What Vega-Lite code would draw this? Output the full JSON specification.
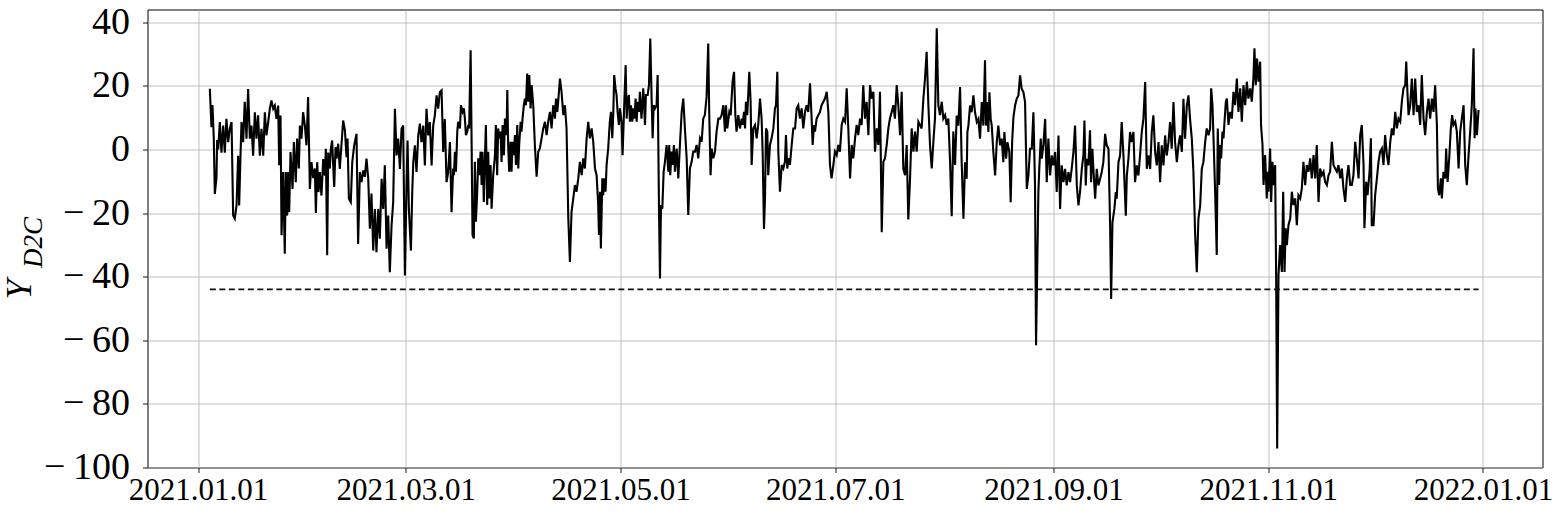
{
"$schema": "https://vega.github.io/schema/vega-lite/v6.json",
"width": 1395, "height": 458,
"autosize": "none",
"padding": {"left": 147.5, "top": 9.5, "right": 12.5, "bottom": 58.5},
"background": "white",
"config": {
  "view": {"stroke": "black", "strokeWidth": 1},
  "axis": {"gridColor": "#b0b0b0", "gridWidth": 0.8, "gridOpacity": 1, "domain": false, "tickColor": "black", "tickWidth": 0.9, "tickSize": 5, "labelColor": "black", "labelFont": "Liberation Serif", "titleFont": "Liberation Serif", "titleColor": "black", "titleFontWeight": "normal"}
},
"layer": [
{
"data": {"values": [
{"date":"2021-01-04T08:00","value":19.1},{"date":"2021-01-04T19:00","value":7},{"date":"2021-01-05T02:00","value":14},{"date":"2021-01-05T11:00","value":3.4},{"date":"2021-01-05T18:00","value":-14},{"date":"2021-01-06T05:00","value":-9},{"date":"2021-01-06T10:00","value":3},{"date":"2021-01-06T17:00","value":0},{"date":"2021-01-07T04:00","value":8.6},{"date":"2021-01-07T15:00","value":-1},{"date":"2021-01-08T03:00","value":7.5},{"date":"2021-01-08T14:00","value":-1},{"date":"2021-01-09T01:00","value":9.6},{"date":"2021-01-09T13:00","value":2.3},{"date":"2021-01-10T00:00","value":6.5},{"date":"2021-01-10T12:00","value":8.6},{"date":"2021-01-10T23:00","value":-20.8},{"date":"2021-01-11T10:00","value":-21.8},{"date":"2021-01-11T22:00","value":-17.6},{"date":"2021-01-12T09:00","value":-2},{"date":"2021-01-12T16:00","value":-17.6},{"date":"2021-01-13T01:00","value":-2},{"date":"2021-01-13T08:00","value":8.6},{"date":"2021-01-13T19:00","value":2.3},{"date":"2021-01-14T06:00","value":15},{"date":"2021-01-14T18:00","value":3.4},{"date":"2021-01-15T05:00","value":19},{"date":"2021-01-15T17:00","value":3.4},{"date":"2021-01-16T04:00","value":7.5},{"date":"2021-01-16T15:00","value":-2},{"date":"2021-01-17T03:00","value":11.7},{"date":"2021-01-17T14:00","value":3.4},{"date":"2021-01-18T01:00","value":10.7},{"date":"2021-01-18T13:00","value":-2},{"date":"2021-01-19T00:00","value":6.5},{"date":"2021-01-19T12:00","value":-2},{"date":"2021-01-19T23:00","value":11.7},{"date":"2021-01-20T10:00","value":4.4},{"date":"2021-01-20T22:00","value":8.6},{"date":"2021-01-21T09:00","value":12.8},{"date":"2021-01-21T20:00","value":15.4},{"date":"2021-01-22T08:00","value":12.8},{"date":"2021-01-22T19:00","value":13.8},{"date":"2021-01-23T06:00","value":9.6},{"date":"2021-01-23T18:00","value":13.8},{"date":"2021-01-24T01:00","value":-5},{"date":"2021-01-24T10:00","value":10.7},{"date":"2021-01-24T17:00","value":-27},{"date":"2021-01-25T04:00","value":-7.1},{"date":"2021-01-25T15:00","value":-32.8},{"date":"2021-01-25T22:00","value":-7.1},{"date":"2021-01-26T07:00","value":-20.8},{"date":"2021-01-26T14:00","value":-7.1},{"date":"2021-01-26T21:00","value":-19.7},{"date":"2021-01-27T06:00","value":-0.8},{"date":"2021-01-27T20:00","value":-12.4},{"date":"2021-01-28T05:00","value":2.3},{"date":"2021-01-28T18:00","value":-10.3},{"date":"2021-01-29T03:00","value":3.4},{"date":"2021-01-29T15:00","value":-6},{"date":"2021-01-29T22:00","value":7.5},{"date":"2021-01-30T09:00","value":3.4},{"date":"2021-01-30T20:00","value":11.7},{"date":"2021-01-31T08:00","value":7.5},{"date":"2021-01-31T19:00","value":1.3},{"date":"2021-02-01T06:00","value":16.5},{"date":"2021-02-01T18:00","value":-12.4},{"date":"2021-02-02T05:00","value":-4},{"date":"2021-02-02T17:00","value":-9},{"date":"2021-02-03T04:00","value":-6},{"date":"2021-02-03T11:00","value":-20},{"date":"2021-02-03T20:00","value":-4},{"date":"2021-02-04T05:00","value":-13.4},{"date":"2021-02-04T14:00","value":-7.1},{"date":"2021-02-05T01:00","value":-14.5},{"date":"2021-02-05T13:00","value":-3},{"date":"2021-02-06T00:00","value":-8.2},{"date":"2021-02-06T07:00","value":0.2},{"date":"2021-02-06T16:00","value":-33.3},{"date":"2021-02-06T23:00","value":-1},
{"date":"2021-02-07T10:00","value":-6},{"date":"2021-02-07T17:00","value":0.2},{"date":"2021-02-08T02:00","value":2.8},{"date":"2021-02-08T09:00","value":-5},{"date":"2021-02-08T16:00","value":-11.8},{"date":"2021-02-09T01:00","value":0.7},{"date":"2021-02-09T08:00","value":-2.9},{"date":"2021-02-09T19:00","value":1.8},{"date":"2021-02-10T06:00","value":-6.1},{"date":"2021-02-10T18:00","value":1.8},{"date":"2021-02-11T05:00","value":9.1},{"date":"2021-02-11T17:00","value":6},{"date":"2021-02-12T04:00","value":-2.4},{"date":"2021-02-12T11:00","value":3.4},{"date":"2021-02-12T20:00","value":-15.5},{"date":"2021-02-13T09:00","value":-16.6},{"date":"2021-02-13T19:00","value":-4},{"date":"2021-02-14T08:00","value":1.3},{"date":"2021-02-15T00:00","value":4.9},{"date":"2021-02-15T11:00","value":-29.7},{"date":"2021-02-15T23:00","value":-7.1},{"date":"2021-02-16T10:00","value":-10.3},{"date":"2021-02-16T22:00","value":-6.6},{"date":"2021-02-17T09:00","value":-8.6},{"date":"2021-02-17T20:00","value":-2.9},{"date":"2021-02-18T08:00","value":-9.2},{"date":"2021-02-18T19:00","value":-24.9},{"date":"2021-02-19T06:00","value":-13.9},{"date":"2021-02-19T18:00","value":-31.8},{"date":"2021-02-20T05:00","value":-18.7},{"date":"2021-02-20T16:00","value":-32.3},{"date":"2021-02-21T04:00","value":-18.7},{"date":"2021-02-21T15:00","value":-28.1},{"date":"2021-02-22T03:00","value":-9.2},{"date":"2021-02-22T14:00","value":-18.7},{"date":"2021-02-23T01:00","value":-5},{"date":"2021-02-23T13:00","value":-31.2},{"date":"2021-02-24T00:00","value":-20.8},{"date":"2021-02-24T11:00","value":-38.6},{"date":"2021-02-24T23:00","value":-23.9},{"date":"2021-02-25T10:00","value":-16.6},{"date":"2021-02-25T22:00","value":12.8},{"date":"2021-02-26T09:00","value":-1.9},{"date":"2021-02-26T20:00","value":3.4},{"date":"2021-02-27T08:00","value":-6.1},{"date":"2021-02-27T19:00","value":6.5},{"date":"2021-02-28T06:00","value":7.5},{"date":"2021-02-28T18:00","value":-39.6},{"date":"2021-03-01T05:00","value":-11.3},{"date":"2021-03-01T12:00","value":2.8},{"date":"2021-03-01T21:00","value":-18.7},{"date":"2021-03-02T11:00","value":-31.8},{"date":"2021-03-02T20:00","value":-13.4},{"date":"2021-03-03T03:00","value":-4},{"date":"2021-03-03T14:00","value":1.3},{"date":"2021-03-04T01:00","value":-7.1},{"date":"2021-03-04T13:00","value":4.4},{"date":"2021-03-05T00:00","value":8.1},{"date":"2021-03-05T11:00","value":2.3},{"date":"2021-03-05T23:00","value":7.5},{"date":"2021-03-06T10:00","value":-5},{"date":"2021-03-06T21:00","value":12.8},{"date":"2021-03-07T09:00","value":4.4},{"date":"2021-03-07T20:00","value":8.6},{"date":"2021-03-08T08:00","value":-5},{"date":"2021-03-08T19:00","value":7.5},{"date":"2021-03-09T06:00","value":10.7},{"date":"2021-03-09T18:00","value":17},{"date":"2021-03-10T05:00","value":12.8},{"date":"2021-03-10T16:00","value":18},{"date":"2021-03-11T04:00","value":18.6},{"date":"2021-03-11T15:00","value":-0.8},{"date":"2021-03-12T02:00","value":9.6},{"date":"2021-03-12T14:00","value":-10.3},{"date":"2021-03-13T01:00","value":-7.1},{"date":"2021-03-13T13:00","value":2.3},{"date":"2021-03-14T00:00","value":-19.7},{"date":"2021-03-14T11:00","value":-6},
{"date":"2021-03-14T16:00","value":-8.1},{"date":"2021-03-14T23:00","value":-0.7},{"date":"2021-03-15T06:00","value":-7},{"date":"2021-03-15T15:00","value":5.6},{"date":"2021-03-15T21:00","value":8.7},{"date":"2021-03-16T09:00","value":6.6},{"date":"2021-03-16T16:00","value":13.9},{"date":"2021-03-17T03:00","value":11.8},{"date":"2021-03-17T12:00","value":12.9},{"date":"2021-03-17T19:00","value":9.7},{"date":"2021-03-18T02:00","value":4.5},{"date":"2021-03-18T11:00","value":5.6},{"date":"2021-03-18T18:00","value":7.7},{"date":"2021-03-19T00:00","value":6.6},{"date":"2021-03-19T10:00","value":31.2},{"date":"2021-03-19T16:00","value":5.6},{"date":"2021-03-19T23:00","value":-26.9},{"date":"2021-03-20T08:00","value":-28},{"date":"2021-03-20T15:00","value":-3.9},{"date":"2021-03-20T22:00","value":-22.7},{"date":"2021-03-21T07:00","value":-13.3},{"date":"2021-03-21T14:00","value":-2.8},{"date":"2021-03-21T21:00","value":-8.1},{"date":"2021-03-22T06:00","value":-0.7},{"date":"2021-03-22T13:00","value":-11.2},{"date":"2021-03-22T19:00","value":-0.7},{"date":"2021-03-23T04:00","value":-16.5},{"date":"2021-03-23T11:00","value":-3.9},{"date":"2021-03-23T18:00","value":7.7},{"date":"2021-03-24T03:00","value":-17.5},{"date":"2021-03-24T10:00","value":-0.7},{"date":"2021-03-24T17:00","value":-15.4},{"date":"2021-03-25T02:00","value":-4.9},{"date":"2021-03-25T09:00","value":-18.6},{"date":"2021-03-25T20:00","value":-8.1},{"date":"2021-03-26T08:00","value":-1.8},{"date":"2021-03-26T14:00","value":7.7},{"date":"2021-03-26T23:00","value":-8.1},{"date":"2021-03-27T06:00","value":6.6},{"date":"2021-03-27T13:00","value":3.5},{"date":"2021-03-27T22:00","value":5.6},{"date":"2021-03-28T05:00","value":-3.9},{"date":"2021-03-28T12:00","value":7.7},{"date":"2021-03-28T21:00","value":-1.8},{"date":"2021-03-29T04:00","value":9.7},{"date":"2021-03-29T15:00","value":4.5},{"date":"2021-03-29T20:00","value":18.7},{"date":"2021-03-30T02:00","value":1.4},{"date":"2021-03-30T09:00","value":-7},{"date":"2021-03-30T18:00","value":2.4},{"date":"2021-03-31T01:00","value":-7},{"date":"2021-03-31T08:00","value":2.4},{"date":"2021-03-31T17:00","value":-1.8},{"date":"2021-04-01T00:00","value":4.5},{"date":"2021-04-01T07:00","value":-4.9},{"date":"2021-04-01T16:00","value":7.7},{"date":"2021-04-01T23:00","value":-6},{"date":"2021-04-02T05:00","value":1.4},{"date":"2021-04-02T15:00","value":8.7},{"date":"2021-04-02T21:00","value":5.6},{"date":"2021-04-03T04:00","value":9.7},{"date":"2021-04-03T13:00","value":13.9},{"date":"2021-04-03T20:00","value":16},{"date":"2021-04-04T03:00","value":13.9},{"date":"2021-04-04T12:00","value":23.9},{"date":"2021-04-04T19:00","value":15},{"date":"2021-04-05T02:00","value":23.4},{"date":"2021-04-05T11:00","value":12.9},{"date":"2021-04-05T18:00","value":20.2},{"date":"2021-04-06T05:00","value":13.9},{"date":"2021-04-06T16:00","value":1.4},{"date":"2021-04-07T04:00","value":-8.6},{"date":"2021-04-07T15:00","value":-0.7},{"date":"2021-04-08T02:00","value":0.3},{"date":"2021-04-08T14:00","value":3.5},{"date":"2021-04-09T01:00","value":6.6},{"date":"2021-04-09T13:00","value":8.7},{"date":"2021-04-10T00:00","value":4.5},{"date":"2021-04-10T11:00","value":8.7},{"date":"2021-04-10T23:00","value":11.8},{"date":"2021-04-11T10:00","value":6.6},{"date":"2021-04-11T21:00","value":13.9},{"date":"2021-04-12T09:00","value":9.7},{"date":"2021-04-12T16:00","value":16},{"date":"2021-04-13T01:00","value":11.8},{"date":"2021-04-13T07:00","value":15},{"date":"2021-04-13T19:00","value":22.3},{"date":"2021-04-14T06:00","value":18.1},{"date":"2021-04-14T18:00","value":10.8},{"date":"2021-04-15T05:00","value":13.9},{"date":"2021-04-15T16:00","value":6.6},{"date":"2021-04-16T04:00","value":-21.7},{"date":"2021-04-16T15:00","value":-35.4},{"date":"2021-04-17T02:00","value":-19.6},{"date":"2021-04-17T14:00","value":-15.4},{"date":"2021-04-18T01:00","value":-11.2},{"date":"2021-04-18T12:00","value":-13.3},{"date":"2021-04-19T00:00","value":-9.1},{"date":"2021-04-19T11:00","value":-3.9},
{"date":"2021-04-19T23:00","value":-8.1},{"date":"2021-04-20T10:00","value":-2.8},{"date":"2021-04-20T21:00","value":-6},{"date":"2021-04-21T09:00","value":3.5},{"date":"2021-04-21T20:00","value":8.7},{"date":"2021-04-22T07:00","value":3.5},{"date":"2021-04-22T19:00","value":6.6},{"date":"2021-04-23T06:00","value":2.4},{"date":"2021-04-23T18:00","value":-6},{"date":"2021-04-24T05:00","value":-8.1},{"date":"2021-04-24T16:00","value":-17.5},{"date":"2021-04-24T21:00","value":-26.9},{"date":"2021-04-25T04:00","value":-13.3},{"date":"2021-04-25T10:00","value":-31.1},{"date":"2021-04-25T20:00","value":-9.1},{"date":"2021-04-26T02:00","value":-14.4},{"date":"2021-04-26T09:00","value":-9.1},{"date":"2021-04-26T18:00","value":-13.3},{"date":"2021-04-27T01:00","value":-4.9},{"date":"2021-04-27T12:00","value":0.3},{"date":"2021-04-27T23:00","value":8.7},{"date":"2021-04-28T07:00","value":11.8},{"date":"2021-04-28T16:00","value":3.5},{"date":"2021-04-28T23:00","value":11.8},{"date":"2021-04-29T05:00","value":23.4},{"date":"2021-04-29T14:00","value":19.2},{"date":"2021-04-29T21:00","value":17.1},{"date":"2021-04-30T04:00","value":11.8},{"date":"2021-04-30T13:00","value":7.7},{"date":"2021-04-30T20:00","value":12.9},{"date":"2021-05-01T07:00","value":8.7},{"date":"2021-05-01T14:00","value":-1.8},{"date":"2021-05-02T02:00","value":15},{"date":"2021-05-02T11:00","value":26.5},{"date":"2021-05-02T18:00","value":9.7},{"date":"2021-05-03T00:00","value":15},{"date":"2021-05-03T09:00","value":17.1},{"date":"2021-05-03T16:00","value":8.7},{"date":"2021-05-03T23:00","value":13.9},{"date":"2021-05-04T08:00","value":8.7},{"date":"2021-05-04T15:00","value":12.9},{"date":"2021-05-04T22:00","value":9.7},{"date":"2021-05-05T07:00","value":16},{"date":"2021-05-05T14:00","value":8.7},{"date":"2021-05-05T21:00","value":15},{"date":"2021-05-06T06:00","value":11.8},{"date":"2021-05-06T12:00","value":18.1},{"date":"2021-05-06T23:00","value":9.7},{"date":"2021-05-07T11:00","value":19.2},{"date":"2021-05-07T23:00","value":7.7},{"date":"2021-05-08T05:00","value":17.1},{"date":"2021-05-08T17:00","value":17.1},{"date":"2021-05-09T02:00","value":20.2},{"date":"2021-05-09T11:00","value":34.9},{"date":"2021-05-09T20:00","value":16},{"date":"2021-05-10T03:00","value":3.5},{"date":"2021-05-10T10:00","value":13.9},{"date":"2021-05-10T19:00","value":12.9},{"date":"2021-05-11T06:00","value":13.9},{"date":"2021-05-11T13:00","value":23.4},{"date":"2021-05-11T22:00","value":-17.5},{"date":"2021-05-12T05:00","value":-40.6},{"date":"2021-05-12T12:00","value":-17.5},{"date":"2021-05-12T21:00","value":-18.6},{"date":"2021-05-13T06:00","value":-7},{"date":"2021-05-13T15:00","value":-3.9},{"date":"2021-05-14T02:00","value":1.4},{"date":"2021-05-14T14:00","value":-7},{"date":"2021-05-14T20:00","value":1.4},{"date":"2021-05-15T03:00","value":-8.1},{"date":"2021-05-15T12:00","value":-0.7},{"date":"2021-05-15T19:00","value":-4.9},{"date":"2021-05-16T04:00","value":1.4},{"date":"2021-05-16T11:00","value":-7},{"date":"2021-05-16T23:00","value":0.3},{"date":"2021-05-17T10:00","value":-9.1},{"date":"2021-05-17T21:00","value":1.4},{"date":"2021-05-18T09:00","value":11.8},{"date":"2021-05-18T20:00","value":16},{"date":"2021-05-19T07:00","value":6.6},{"date":"2021-05-19T19:00","value":-2.8},{"date":"2021-05-20T06:00","value":-20.6},{"date":"2021-05-20T17:00","value":-6},{"date":"2021-05-21T05:00","value":-3.9},{"date":"2021-05-21T16:00","value":-0.7},{"date":"2021-05-22T04:00","value":-0.7},{"date":"2021-05-22T15:00","value":1.4},{"date":"2021-05-23T02:00","value":-2.8},{"date":"2021-05-23T14:00","value":3.5},{"date":"2021-05-24T01:00","value":2.4},{"date":"2021-05-24T12:00","value":9.7},{"date":"2021-05-24T23:00","value":10.8},
{"date":"2021-05-25T11:00","value":16.6},{"date":"2021-05-25T22:00","value":33.3},{"date":"2021-05-26T05:00","value":10.8},{"date":"2021-05-26T14:00","value":-8.1},{"date":"2021-05-26T21:00","value":0.3},{"date":"2021-05-27T09:00","value":-2.8},{"date":"2021-05-27T20:00","value":-0.7},{"date":"2021-05-28T07:00","value":5.6},{"date":"2021-05-28T19:00","value":9.7},{"date":"2021-05-29T06:00","value":9.7},{"date":"2021-05-29T17:00","value":10.8},{"date":"2021-05-30T05:00","value":13.9},{"date":"2021-05-30T16:00","value":5.6},{"date":"2021-05-30T23:00","value":13.9},{"date":"2021-05-31T08:00","value":6.6},{"date":"2021-05-31T22:00","value":11.8},{"date":"2021-06-01T07:00","value":10.8},{"date":"2021-06-01T20:00","value":21.3},{"date":"2021-06-02T06:00","value":24.4},{"date":"2021-06-02T15:00","value":10.8},{"date":"2021-06-02T23:00","value":5.6},{"date":"2021-06-03T11:00","value":10.8},{"date":"2021-06-03T22:00","value":6.6},{"date":"2021-06-04T10:00","value":9.7},{"date":"2021-06-04T17:00","value":7.7},{"date":"2021-06-05T02:00","value":11.8},{"date":"2021-06-05T09:00","value":6.6},{"date":"2021-06-05T15:00","value":15},{"date":"2021-06-06T00:00","value":10.8},{"date":"2021-06-06T14:00","value":24.4},{"date":"2021-06-06T23:00","value":15},{"date":"2021-06-07T06:00","value":-4.9},{"date":"2021-06-07T17:00","value":6.6},{"date":"2021-06-08T05:00","value":7.7},{"date":"2021-06-08T16:00","value":3.5},{"date":"2021-06-09T03:00","value":7.7},{"date":"2021-06-09T15:00","value":16},{"date":"2021-06-10T02:00","value":9.7},{"date":"2021-06-10T09:00","value":-0.7},{"date":"2021-06-10T18:00","value":-25},{"date":"2021-06-11T01:00","value":-15.4},{"date":"2021-06-11T08:00","value":6.6},{"date":"2021-06-11T17:00","value":5.6},{"date":"2021-06-11T23:00","value":-8.1},{"date":"2021-06-12T11:00","value":1.4},{"date":"2021-06-12T22:00","value":3.5},{"date":"2021-06-13T10:00","value":6.6},{"date":"2021-06-13T21:00","value":12.9},{"date":"2021-06-14T04:00","value":13.9},{"date":"2021-06-14T13:00","value":24.4},{"date":"2021-06-14T20:00","value":-0.7},{"date":"2021-06-15T07:00","value":-13.3},{"date":"2021-06-15T19:00","value":-4.9},{"date":"2021-06-16T06:00","value":-6},{"date":"2021-06-16T17:00","value":-3.9},{"date":"2021-06-17T00:00","value":4.5},{"date":"2021-06-17T09:00","value":-6},{"date":"2021-06-17T16:00","value":-2.8},{"date":"2021-06-18T03:00","value":-4.9},{"date":"2021-06-18T15:00","value":1.4},{"date":"2021-06-19T02:00","value":6.6},{"date":"2021-06-19T14:00","value":6.6},{"date":"2021-06-20T01:00","value":12.9},{"date":"2021-06-20T12:00","value":13.9},{"date":"2021-06-20T23:00","value":9.7},{"date":"2021-06-21T11:00","value":12.9},{"date":"2021-06-21T22:00","value":6.6},{"date":"2021-06-22T10:00","value":11.8},{"date":"2021-06-22T21:00","value":13.9},{"date":"2021-06-23T08:00","value":11.8},{"date":"2021-06-23T20:00","value":20.8},{"date":"2021-06-24T07:00","value":9.7},{"date":"2021-06-24T14:00","value":1.4},{"date":"2021-06-24T23:00","value":7.7},{"date":"2021-06-25T06:00","value":5.6},{"date":"2021-06-25T17:00","value":9.7},{"date":"2021-06-26T05:00","value":10.8},{"date":"2021-06-26T16:00","value":11.8},{"date":"2021-06-27T03:00","value":13.9},{"date":"2021-06-27T15:00","value":15},{"date":"2021-06-28T02:00","value":16},{"date":"2021-06-28T14:00","value":18.1},{"date":"2021-06-29T01:00","value":11.8},{"date":"2021-06-29T12:00","value":-4.9},
{"date":"2021-06-29T23:00","value":-9.1},{"date":"2021-06-30T11:00","value":-4.9},{"date":"2021-06-30T22:00","value":-0.7},{"date":"2021-07-01T10:00","value":-1.8},{"date":"2021-07-01T21:00","value":1.4},{"date":"2021-07-02T08:00","value":-0.7},{"date":"2021-07-02T20:00","value":7.7},{"date":"2021-07-03T07:00","value":9.7},{"date":"2021-07-03T19:00","value":8.7},{"date":"2021-07-04T06:00","value":19.2},{"date":"2021-07-04T17:00","value":6.6},{"date":"2021-07-05T05:00","value":-9.1},{"date":"2021-07-05T16:00","value":1.4},{"date":"2021-07-06T03:00","value":-2.8},{"date":"2021-07-06T15:00","value":3.5},{"date":"2021-07-07T02:00","value":7.7},{"date":"2021-07-07T13:00","value":4.5},{"date":"2021-07-08T01:00","value":9.7},{"date":"2021-07-08T12:00","value":7.7},{"date":"2021-07-08T23:00","value":20.2},{"date":"2021-07-09T11:00","value":9.7},{"date":"2021-07-09T22:00","value":15},{"date":"2021-07-10T10:00","value":4.5},{"date":"2021-07-10T21:00","value":20.2},{"date":"2021-07-11T08:00","value":16},{"date":"2021-07-11T20:00","value":18.1},{"date":"2021-07-12T07:00","value":-0.7},{"date":"2021-07-12T19:00","value":6.6},{"date":"2021-07-13T06:00","value":1.4},{"date":"2021-07-13T17:00","value":18.1},{"date":"2021-07-14T05:00","value":-26},{"date":"2021-07-14T16:00","value":-3.9},{"date":"2021-07-15T03:00","value":-2.8},{"date":"2021-07-15T15:00","value":1.4},{"date":"2021-07-16T02:00","value":6.6},{"date":"2021-07-16T13:00","value":9.7},{"date":"2021-07-17T01:00","value":11.8},{"date":"2021-07-17T12:00","value":13.9},{"date":"2021-07-17T23:00","value":9.7},{"date":"2021-07-18T11:00","value":20.2},{"date":"2021-07-18T22:00","value":13.9},{"date":"2021-07-19T10:00","value":4.5},{"date":"2021-07-19T21:00","value":18.1},{"date":"2021-07-20T08:00","value":-6},{"date":"2021-07-20T20:00","value":-8.1},{"date":"2021-07-21T07:00","value":1.4},{"date":"2021-07-21T18:00","value":-22},{"date":"2021-07-22T06:00","value":-9.1},{"date":"2021-07-22T17:00","value":6.6},{"date":"2021-07-23T05:00","value":-0.7},{"date":"2021-07-23T16:00","value":5.6},{"date":"2021-07-24T03:00","value":-0.7},{"date":"2021-07-24T15:00","value":8.7},{"date":"2021-07-25T02:00","value":7.7},{"date":"2021-07-25T13:00","value":6.6},{"date":"2021-07-26T01:00","value":16},{"date":"2021-07-26T12:00","value":22.3},{"date":"2021-07-26T23:00","value":30.7},{"date":"2021-07-27T11:00","value":13.9},{"date":"2021-07-27T22:00","value":1.4},{"date":"2021-07-28T10:00","value":-6},{"date":"2021-07-28T21:00","value":2.4},{"date":"2021-07-29T08:00","value":9.7},{"date":"2021-07-29T20:00","value":38.1},{"date":"2021-07-30T07:00","value":13.9},{"date":"2021-07-30T18:00","value":10.8},{"date":"2021-07-31T06:00","value":15},{"date":"2021-07-31T17:00","value":9.7},{"date":"2021-08-01T05:00","value":10.8},{"date":"2021-08-01T16:00","value":7.7},{"date":"2021-08-02T03:00","value":9.7},{"date":"2021-08-02T15:00","value":-3.9},{"date":"2021-08-03T02:00","value":-21},{"date":"2021-08-03T13:00","value":5.6},{"date":"2021-08-04T01:00","value":-4.9},
{"date":"2021-08-04T12:00","value":10.7},{"date":"2021-08-04T23:00","value":7.5},{"date":"2021-08-05T11:00","value":19.6},{"date":"2021-08-05T22:00","value":-4},{"date":"2021-08-06T10:00","value":-21.8},{"date":"2021-08-06T21:00","value":-4},{"date":"2021-08-07T08:00","value":-9.2},{"date":"2021-08-07T13:00","value":5.5},{"date":"2021-08-07T20:00","value":7.5},{"date":"2021-08-08T07:00","value":13.8},{"date":"2021-08-08T18:00","value":11.7},{"date":"2021-08-09T06:00","value":17},{"date":"2021-08-09T17:00","value":11.7},{"date":"2021-08-10T05:00","value":8.6},{"date":"2021-08-10T16:00","value":9.6},{"date":"2021-08-11T03:00","value":3.4},{"date":"2021-08-11T15:00","value":14.9},{"date":"2021-08-12T02:00","value":7.5},{"date":"2021-08-12T13:00","value":28},{"date":"2021-08-12T20:00","value":7.5},{"date":"2021-08-13T05:00","value":14.9},{"date":"2021-08-13T12:00","value":5.5},{"date":"2021-08-13T19:00","value":18},{"date":"2021-08-14T04:00","value":9.6},{"date":"2021-08-14T11:00","value":7.5},{"date":"2021-08-14T22:00","value":-0.8},{"date":"2021-08-15T10:00","value":-8.2},{"date":"2021-08-15T21:00","value":2.3},{"date":"2021-08-16T08:00","value":7.5},{"date":"2021-08-16T20:00","value":1.3},{"date":"2021-08-17T07:00","value":3.4},{"date":"2021-08-17T18:00","value":-4},{"date":"2021-08-18T01:00","value":5.5},{"date":"2021-08-18T13:00","value":-2.9},{"date":"2021-08-18T22:00","value":2.3},{"date":"2021-08-19T11:00","value":-0.8},{"date":"2021-08-19T20:00","value":-16.6},{"date":"2021-08-20T06:00","value":2.3},{"date":"2021-08-20T15:00","value":10.2},{"date":"2021-08-21T02:00","value":13.8},{"date":"2021-08-21T13:00","value":15.9},{"date":"2021-08-22T01:00","value":17},{"date":"2021-08-22T12:00","value":23.3},{"date":"2021-08-22T23:00","value":19.1},{"date":"2021-08-23T11:00","value":18},{"date":"2021-08-23T22:00","value":14.9},{"date":"2021-08-24T10:00","value":-12.4},{"date":"2021-08-24T21:00","value":-8.2},{"date":"2021-08-25T08:00","value":0.2},{"date":"2021-08-25T20:00","value":0.2},{"date":"2021-08-26T07:00","value":11.7},{"date":"2021-08-26T18:00","value":-11.3},{"date":"2021-08-27T01:00","value":-61.6},{"date":"2021-08-27T10:00","value":-34.4},{"date":"2021-08-27T17:00","value":-13.4},{"date":"2021-08-27T23:00","value":-6.1},{"date":"2021-08-28T09:00","value":3.4},{"date":"2021-08-28T16:00","value":-2.9},{"date":"2021-08-29T03:00","value":1.3},{"date":"2021-08-29T15:00","value":9.6},{"date":"2021-08-30T02:00","value":-10.3},{"date":"2021-08-30T13:00","value":3.4},{"date":"2021-08-31T01:00","value":-8.2},{"date":"2021-08-31T12:00","value":-1.9},{"date":"2021-08-31T23:00","value":-5},{"date":"2021-09-01T11:00","value":-0.8},{"date":"2021-09-01T22:00","value":-13.4},{"date":"2021-09-02T10:00","value":4.4},{"date":"2021-09-02T21:00","value":-18.7},{"date":"2021-09-03T08:00","value":-5},{"date":"2021-09-03T20:00","value":-10.3},{"date":"2021-09-04T07:00","value":-6.1},{"date":"2021-09-04T18:00","value":-11.3},{"date":"2021-09-05T06:00","value":-7.1},{"date":"2021-09-05T17:00","value":-10.3},{"date":"2021-09-06T04:00","value":-6.1},{"date":"2021-09-06T16:00","value":-0.8},{"date":"2021-09-07T03:00","value":7.5},{"date":"2021-09-07T15:00","value":-11.3},{"date":"2021-09-08T02:00","value":-17.6},{"date":"2021-09-08T13:00","value":-13.4},
{"date":"2021-09-09T01:00","value":-6.1},{"date":"2021-09-09T12:00","value":-1.9},{"date":"2021-09-09T19:00","value":9.1},{"date":"2021-09-10T04:00","value":-11.3},{"date":"2021-09-10T11:00","value":-2.9},{"date":"2021-09-10T22:00","value":-5},{"date":"2021-09-11T09:00","value":6},{"date":"2021-09-11T16:00","value":-10.3},{"date":"2021-09-12T01:00","value":0.2},{"date":"2021-09-12T08:00","value":-6.1},{"date":"2021-09-12T20:00","value":-15.5},{"date":"2021-09-13T07:00","value":-6.1},{"date":"2021-09-13T18:00","value":-11.3},{"date":"2021-09-14T06:00","value":-9.2},{"date":"2021-09-14T17:00","value":-7.1},{"date":"2021-09-15T04:00","value":-4},{"date":"2021-09-15T16:00","value":4.9},{"date":"2021-09-16T03:00","value":1.3},{"date":"2021-09-16T15:00","value":0.2},{"date":"2021-09-17T02:00","value":-23.9},{"date":"2021-09-17T09:00","value":-47},{"date":"2021-09-17T18:00","value":-22.9},{"date":"2021-09-18T07:00","value":-18.7},{"date":"2021-09-18T17:00","value":-13.4},{"date":"2021-09-18T23:00","value":-15.5},{"date":"2021-09-19T11:00","value":-4},{"date":"2021-09-19T22:00","value":-1.9},{"date":"2021-09-20T09:00","value":8.6},{"date":"2021-09-20T21:00","value":-1.9},{"date":"2021-09-21T04:00","value":-10.3},{"date":"2021-09-21T13:00","value":-20.8},{"date":"2021-09-21T20:00","value":-8.2},{"date":"2021-09-22T07:00","value":-2.9},{"date":"2021-09-22T18:00","value":5.5},{"date":"2021-09-23T06:00","value":2.3},{"date":"2021-09-23T17:00","value":5.5},{"date":"2021-09-24T04:00","value":-10.3},{"date":"2021-09-24T16:00","value":-5},{"date":"2021-09-25T03:00","value":-8.2},{"date":"2021-09-25T14:00","value":-1.9},{"date":"2021-09-26T02:00","value":5.5},{"date":"2021-09-26T13:00","value":9.6},{"date":"2021-09-27T01:00","value":21.2},{"date":"2021-09-27T12:00","value":-6.1},{"date":"2021-09-27T23:00","value":-1.9},{"date":"2021-09-28T11:00","value":-6.1},{"date":"2021-09-28T22:00","value":5.5},{"date":"2021-09-29T09:00","value":10.7},{"date":"2021-09-29T21:00","value":-0.8},{"date":"2021-09-30T08:00","value":-5},{"date":"2021-09-30T20:00","value":2.3},{"date":"2021-10-01T07:00","value":-10.3},{"date":"2021-10-01T18:00","value":1.3},{"date":"2021-10-02T06:00","value":-5},{"date":"2021-10-02T17:00","value":4.4},{"date":"2021-10-03T04:00","value":-1.9},{"date":"2021-10-03T16:00","value":2.3},{"date":"2021-10-04T03:00","value":8.6},{"date":"2021-10-04T14:00","value":0.2},{"date":"2021-10-05T02:00","value":14.9},{"date":"2021-10-05T13:00","value":2.3},{"date":"2021-10-06T01:00","value":-4},{"date":"2021-10-06T12:00","value":1.3},{"date":"2021-10-06T23:00","value":4.4},{"date":"2021-10-07T11:00","value":-0.8},{"date":"2021-10-07T22:00","value":15.9},{"date":"2021-10-08T09:00","value":3.4},{"date":"2021-10-08T21:00","value":13.8},{"date":"2021-10-09T08:00","value":17},{"date":"2021-10-09T19:00","value":9.6},{"date":"2021-10-10T07:00","value":3.4},{"date":"2021-10-10T18:00","value":-7.1},{"date":"2021-10-11T06:00","value":-27},{"date":"2021-10-11T17:00","value":-38.6},{"date":"2021-10-12T04:00","value":-21.8},{"date":"2021-10-12T16:00","value":-17.6},{"date":"2021-10-13T03:00","value":-6.1},{"date":"2021-10-13T14:00","value":-4},{"date":"2021-10-14T02:00","value":2.3},
{"date":"2021-10-14T13:00","value":6.6},{"date":"2021-10-15T01:00","value":4.5},{"date":"2021-10-15T12:00","value":6.6},{"date":"2021-10-15T19:00","value":19.2},{"date":"2021-10-16T04:00","value":13.9},{"date":"2021-10-16T11:00","value":3.5},{"date":"2021-10-16T22:00","value":-13.3},{"date":"2021-10-17T09:00","value":-33.2},{"date":"2021-10-17T16:00","value":6.6},{"date":"2021-10-18T01:00","value":-11.2},{"date":"2021-10-18T08:00","value":1.4},{"date":"2021-10-18T15:00","value":-2.8},{"date":"2021-10-19T00:00","value":5.6},{"date":"2021-10-19T07:00","value":3.5},{"date":"2021-10-19T14:00","value":8.7},{"date":"2021-10-19T23:00","value":15},{"date":"2021-10-20T06:00","value":16},{"date":"2021-10-20T17:00","value":7.7},{"date":"2021-10-21T04:00","value":11.8},{"date":"2021-10-21T16:00","value":9.7},{"date":"2021-10-22T03:00","value":18.1},{"date":"2021-10-22T14:00","value":13.9},{"date":"2021-10-23T02:00","value":22.3},{"date":"2021-10-23T13:00","value":11.8},{"date":"2021-10-24T01:00","value":19.2},{"date":"2021-10-24T12:00","value":8.7},{"date":"2021-10-24T23:00","value":20.2},{"date":"2021-10-25T11:00","value":13.9},{"date":"2021-10-25T22:00","value":21.3},{"date":"2021-10-26T09:00","value":16},{"date":"2021-10-26T21:00","value":19.2},{"date":"2021-10-27T08:00","value":15},{"date":"2021-10-27T19:00","value":22.3},{"date":"2021-10-28T02:00","value":31.8},{"date":"2021-10-28T11:00","value":20.2},{"date":"2021-10-28T20:00","value":28.6},{"date":"2021-10-29T06:00","value":21.3},{"date":"2021-10-29T17:00","value":27.6},{"date":"2021-10-29T23:00","value":7.7},{"date":"2021-10-30T09:00","value":1.4},{"date":"2021-10-30T16:00","value":-11.2},{"date":"2021-10-31T03:00","value":-1.8},{"date":"2021-10-31T14:00","value":-15.4},{"date":"2021-10-31T21:00","value":-7},{"date":"2021-11-01T02:00","value":-13.3},{"date":"2021-11-01T13:00","value":0.3},{"date":"2021-11-01T20:00","value":-16.5},{"date":"2021-11-02T05:00","value":-3.9},{"date":"2021-11-02T14:00","value":-11.2},{"date":"2021-11-02T23:00","value":-4.9},{"date":"2021-11-03T06:00","value":-39.5},{"date":"2021-11-03T13:00","value":-94},{"date":"2021-11-03T22:00","value":-39.5},{"date":"2021-11-04T09:00","value":-30.1},{"date":"2021-11-04T21:00","value":-38.5},{"date":"2021-11-05T06:00","value":-13.3},{"date":"2021-11-05T15:00","value":-38.5},{"date":"2021-11-05T23:00","value":-24.8},{"date":"2021-11-06T07:00","value":-30.1},{"date":"2021-11-06T18:00","value":-23.8},{"date":"2021-11-07T06:00","value":-21.7},{"date":"2021-11-07T17:00","value":-13.3},{"date":"2021-11-08T04:00","value":-17.5},{"date":"2021-11-08T16:00","value":-15.4},{"date":"2021-11-09T03:00","value":-23.8},{"date":"2021-11-09T14:00","value":-14.4},{"date":"2021-11-10T02:00","value":-15.4},{"date":"2021-11-10T13:00","value":-12.3},{"date":"2021-11-11T00:00","value":-3.9},{"date":"2021-11-11T12:00","value":-11.2},{"date":"2021-11-11T23:00","value":-4.9},{"date":"2021-11-12T11:00","value":-7},{"date":"2021-11-12T22:00","value":-2.8},{"date":"2021-11-13T09:00","value":-9.1},{"date":"2021-11-13T21:00","value":-1.8},{"date":"2021-11-14T08:00","value":-9.1},{"date":"2021-11-14T19:00","value":1.4},{"date":"2021-11-15T07:00","value":-16.5},{"date":"2021-11-15T18:00","value":-6},{"date":"2021-11-16T05:00","value":-8.1},{"date":"2021-11-16T17:00","value":-7},{"date":"2021-11-17T04:00","value":-10.2},
{"date":"2021-11-17T16:00","value":-11.2},{"date":"2021-11-18T03:00","value":-8.1},{"date":"2021-11-18T14:00","value":-7},{"date":"2021-11-19T02:00","value":2.4},{"date":"2021-11-19T13:00","value":-4.9},{"date":"2021-11-20T00:00","value":-6},{"date":"2021-11-20T12:00","value":-7},{"date":"2021-11-20T23:00","value":-4.9},{"date":"2021-11-21T11:00","value":-9.1},{"date":"2021-11-21T22:00","value":-6},{"date":"2021-11-22T09:00","value":-12.3},{"date":"2021-11-22T21:00","value":-16.5},{"date":"2021-11-23T08:00","value":-9.1},{"date":"2021-11-23T19:00","value":-4.9},{"date":"2021-11-24T07:00","value":-11.2},{"date":"2021-11-24T18:00","value":-11.2},{"date":"2021-11-25T05:00","value":-8.1},{"date":"2021-11-25T17:00","value":2.4},{"date":"2021-11-26T04:00","value":-2.8},{"date":"2021-11-26T16:00","value":-9.1},{"date":"2021-11-27T03:00","value":4.5},{"date":"2021-11-27T14:00","value":7.7},{"date":"2021-11-28T02:00","value":-4.9},{"date":"2021-11-28T08:00","value":-24.8},{"date":"2021-11-28T20:00","value":-10.2},{"date":"2021-11-29T05:00","value":-14.4},{"date":"2021-11-29T19:00","value":-7},{"date":"2021-11-30T04:00","value":3.5},{"date":"2021-11-30T10:00","value":-23.8},{"date":"2021-11-30T22:00","value":-23.8},{"date":"2021-12-01T09:00","value":-14.4},{"date":"2021-12-01T21:00","value":-9.1},{"date":"2021-12-02T08:00","value":-3.9},{"date":"2021-12-02T19:00","value":-0.7},{"date":"2021-12-03T07:00","value":0.3},{"date":"2021-12-03T18:00","value":-4.9},{"date":"2021-12-04T05:00","value":4.5},{"date":"2021-12-04T17:00","value":-1.8},{"date":"2021-12-05T04:00","value":-4.9},{"date":"2021-12-05T16:00","value":2.4},{"date":"2021-12-06T03:00","value":6.6},{"date":"2021-12-06T14:00","value":4.5},{"date":"2021-12-07T02:00","value":11.8},{"date":"2021-12-07T13:00","value":6.6},{"date":"2021-12-08T00:00","value":9.7},{"date":"2021-12-08T12:00","value":8.7},{"date":"2021-12-08T23:00","value":15},{"date":"2021-12-09T10:00","value":19.2},{"date":"2021-12-09T22:00","value":20.2},{"date":"2021-12-10T05:00","value":27.6},{"date":"2021-12-10T14:00","value":17.1},{"date":"2021-12-10T21:00","value":10.8},{"date":"2021-12-11T08:00","value":13.9},{"date":"2021-12-11T19:00","value":22.3},{"date":"2021-12-12T07:00","value":10.8},{"date":"2021-12-12T18:00","value":22.3},{"date":"2021-12-13T05:00","value":11.8},{"date":"2021-12-13T17:00","value":13.9},{"date":"2021-12-14T04:00","value":7.7},{"date":"2021-12-14T15:00","value":23.4},{"date":"2021-12-15T03:00","value":9.7},{"date":"2021-12-15T14:00","value":4.5},{"date":"2021-12-16T02:00","value":11.8},{"date":"2021-12-16T13:00","value":16},{"date":"2021-12-17T00:00","value":9.7},{"date":"2021-12-17T12:00","value":16},{"date":"2021-12-17T23:00","value":11.8},{"date":"2021-12-18T10:00","value":20.2},{"date":"2021-12-18T22:00","value":7.7},{"date":"2021-12-19T05:00","value":-12.3},{"date":"2021-12-19T14:00","value":-14.4},{"date":"2021-12-20T01:00","value":-9.1},{"date":"2021-12-20T08:00","value":-15.4},{"date":"2021-12-20T19:00","value":-7},{"date":"2021-12-21T07:00","value":-9.1},{"date":"2021-12-21T13:00","value":0.3},{"date":"2021-12-21T23:00","value":-10.2},{"date":"2021-12-22T10:00","value":-2.8},{"date":"2021-12-22T21:00","value":6.6},{"date":"2021-12-23T06:00","value":10.8},{"date":"2021-12-23T15:00","value":7.7},{"date":"2021-12-24T03:00","value":8.7},{"date":"2021-12-24T14:00","value":5.6},{"date":"2021-12-25T02:00","value":-6},{"date":"2021-12-25T13:00","value":5.6},{"date":"2021-12-26T00:00","value":9.7},{"date":"2021-12-26T12:00","value":13.9},{"date":"2021-12-26T23:00","value":-4.9},{"date":"2021-12-27T10:00","value":-11.2},{"date":"2021-12-27T22:00","value":-1.8},{"date":"2021-12-28T09:00","value":5.6},{"date":"2021-12-28T20:00","value":13.9},{"date":"2021-12-29T08:00","value":31.8},{"date":"2021-12-29T15:00","value":3.5},{"date":"2021-12-29T21:00","value":12.9},{"date":"2021-12-30T07:00","value":4.5},{"date":"2021-12-30T18:00","value":12.4}
]},
"mark": {"type": "line", "color": "black", "strokeWidth": 2.1, "strokeJoin": "miter"},
"encoding": {
  "x": {"field": "date", "type": "temporal",
    "scale": {"domain": [{"year": 2020, "month": 12, "date": 17, "hours": 15}, {"year": 2022, "month": 1, "date": 17, "hours": 22}], "nice": false},
    "axis": {"title": null, "values": [{"year": 2021, "month": 1, "date": 1}, {"year": 2021, "month": 3, "date": 1}, {"year": 2021, "month": 5, "date": 1}, {"year": 2021, "month": 7, "date": 1}, {"year": 2021, "month": 9, "date": 1}, {"year": 2021, "month": 11, "date": 1}, {"year": 2022, "month": 1, "date": 1}], "format": "%Y.%m.%d", "labelFontSize": 31, "labelPadding": 3, "grid": true, "labelFlush": false, "labelOverlap": false}},
  "y": {"field": "value", "type": "quantitative",
    "scale": {"domain": [-100, 44], "nice": false, "zero": false},
    "axis": {"values": [-100, -80, -60, -40, -20, 0, 20, 40], "labelExpr": "replace(datum.label, '\u2212', '\u2212\u2009')", "labelFontSize": 38, "labelPadding": 13, "grid": true, "title": "Y", "titleFontSize": 36, "titleFontStyle": "italic", "titleAngle": 270, "titleBaseline": "middle", "titleAlign": "center", "titleX": -128, "titleY": 279.5}}
}
},
{
"data": {"values": [{"start": "2021-01-04T08:00", "end": "2021-12-30T18:00", "threshold": -44}]},
"mark": {"type": "rule", "color": "#111111", "strokeWidth": 1.8, "strokeDash": [6, 3.5]},
"encoding": {
  "x": {"field": "start", "type": "temporal", "axis": {"title": null}},
  "x2": {"field": "end"},
  "y": {"field": "threshold", "type": "quantitative",
    "scale": {"domain": [-100, 44], "nice": false, "zero": false},
    "axis": {"orient": "left", "title": "D2C", "labels": false, "ticks": false, "grid": false, "domain": false, "titleFontSize": 27, "titleFontStyle": "italic", "titleAngle": 270, "titleBaseline": "middle", "titleAlign": "center", "titleX": -114, "titleY": 232.5}}
}
}
],
"resolve": {"axis": {"y": "independent"}}
}
